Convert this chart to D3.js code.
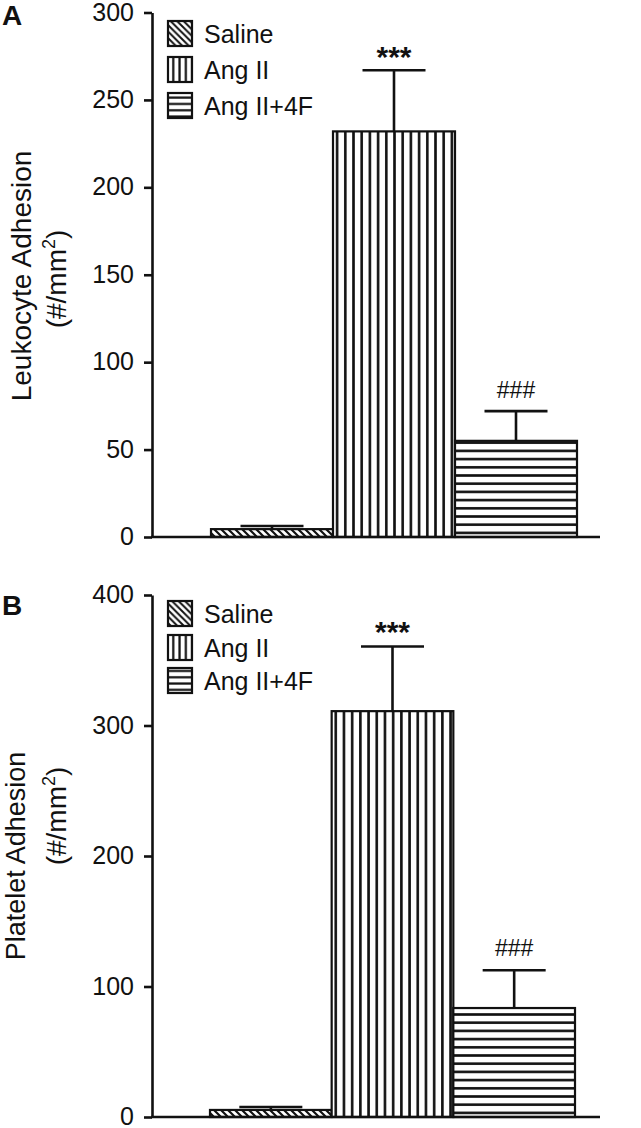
<!DOCTYPE html>
<html>
<head>
<meta charset="utf-8">
<script src="https://cdn.jsdelivr.net/npm/d3@7"></script>
<style>
  html, body { margin: 0; padding: 0; background: #fff; }
  svg { display: block; font-family: "Liberation Sans", Arial, Helvetica, sans-serif; }
</style>
</head>
<body>
<svg id="chart" width="641" height="1128"></svg>
<script>
// ---- data ----
const groups = ["Saline", "Ang II", "Ang II+4F"];
const leukocyteMean = [4.5, 232, 55];
const leukocyteSEM = [1.8, 35, 17];
const plateletMean = [5.4, 311, 83.5];
const plateletSEM = [2.3, 49.5, 29];
const leukocyteTicks = [0, 50, 100, 150, 200, 250, 300];
const plateletTicks = [0, 100, 200, 300, 400];
const sigLabels = ["", "***", "###"];
const panelLabels = ["A", "B"];
const yTitles = [["Leukocyte Adhesion", "(#/mm", "2", ")"], ["Platelet Adhesion", "(#/mm", "2", ")"]];

const svg = d3.select("#chart");
const ink = "#111";
const patIds = ["pDiag", "pVert", "pHorz"];

// ---- patterns ----
const defs = svg.append("defs");
function diagPattern(id, s, sw) {
  const p = defs.append("pattern").attr("id", id).attr("patternUnits", "userSpaceOnUse")
    .attr("width", s).attr("height", s);
  p.append("rect").attr("width", s).attr("height", s).attr("fill", "#fff");
  p.append("path").attr("d", `M${-s/2},${-s/2}L${s*1.5},${s*1.5}M${-s/2},${s/2}L${s/2},${s*1.5}M${s/2},${-s/2}L${s*1.5},${s/2}`)
    .attr("stroke", ink).attr("stroke-width", sw);
}
function vertPattern(id, s, sw, x0) {
  const p = defs.append("pattern").attr("id", id).attr("patternUnits", "userSpaceOnUse")
    .attr("width", s).attr("height", 10).attr("x", x0 || 0);
  p.append("rect").attr("width", s).attr("height", 10).attr("fill", "#fff");
  p.append("line").attr("x1", s/2).attr("x2", s/2).attr("y1", 0).attr("y2", 10)
    .attr("stroke", ink).attr("stroke-width", sw);
}
function horzPattern(id, s, sw, y0) {
  const p = defs.append("pattern").attr("id", id).attr("patternUnits", "userSpaceOnUse")
    .attr("width", 10).attr("height", s).attr("y", y0 || 0);
  p.append("rect").attr("width", 10).attr("height", s).attr("fill", "#fff");
  p.append("line").attr("y1", s/2).attr("y2", s/2).attr("x1", 0).attr("x2", 10)
    .attr("stroke", ink).attr("stroke-width", sw);
}
diagPattern("lDiag", 6.5, 2);
vertPattern("lVert", 6.3, 2.2, 0);
horzPattern("lHorz", 6.3, 2.2, 0);
const legendPat = ["lDiag", "lVert", "lHorz"];

// ---- panels ----
const panels = [
  { mean: leukocyteMean, sem: leukocyteSEM, ticks: leukocyteTicks, max: 300,
    y0: 537, y1: 12.5, xL: 211, xR: 577, label: panelLabels[0], labelY: 25,
    title: yTitles[0], t1x: 31, t1y: 276, t2x: 66, t2y: 279, t1fs: 28,
    legY: [21, 57, 93], legH: 25, sigGap: 21 },
  { mean: plateletMean, sem: plateletSEM, ticks: plateletTicks, max: 400,
    y0: 1117, y1: 595, xL: 210, xR: 575, label: panelLabels[1], labelY: 615,
    title: yTitles[1], t1x: 25, t1y: 856, t2x: 66, t2y: 816, t1fs: 27,
    legY: [601, 635, 668], legH: 25, sigGap: 22 }
];

const axisX = 152;

panels.forEach((P, pi) => {
  const g = svg.append("g");
  const y = d3.scaleLinear().domain([0, P.max]).range([P.y0, P.y1]);
  const x = d3.scaleBand().domain(groups).range([P.xL, P.xR]).paddingInner(0).paddingOuter(0);

  // bars
  groups.forEach((grp, i) => {
    const bx = x(grp), bw = x.bandwidth();
    const top = y(P.mean[i]);
    const pid = patIds[i] + "_" + pi;
    if (i === 1) vertPattern(pid, 8.2, 2.6, bx);
    else if (i === 2) horzPattern(pid, 8.2, 2.6, P.y0);
    else diagPattern(pid, 7, 2.2);
    g.append("rect").attr("x", bx).attr("y", top).attr("width", bw).attr("height", P.y0 - top)
      .attr("fill", `url(#${pid})`).attr("stroke", ink).attr("stroke-width", 2.2);
    // error bar
    const cx = bx + bw / 2;
    const capY = y(P.mean[i] + P.sem[i]);
    g.append("line").attr("x1", cx).attr("x2", cx).attr("y1", top).attr("y2", capY)
      .attr("stroke", ink).attr("stroke-width", 2.6);
    g.append("line").attr("x1", cx - 31.5).attr("x2", cx + 31.5).attr("y1", capY).attr("y2", capY)
      .attr("stroke", ink).attr("stroke-width", 2.6);
    if (sigLabels[i]) {
      const isStar = sigLabels[i] === "***";
      g.append("text").attr("x", cx).attr("y", capY - P.sigGap)
        .attr("text-anchor", "middle")
        .attr("dy", isStar ? "0.58em" : "0.36em")
        .attr("font-size", isStar ? 30 : 23)
        .attr("font-weight", isStar ? "bold" : "normal")
        .attr("fill", ink).text(sigLabels[i]);
    }
  });

  // y axis
  const ax = g.append("g").attr("transform", `translate(${axisX},0)`)
    .call(d3.axisLeft(y).tickValues(P.ticks).tickSize(8).tickPadding(10).tickSizeOuter(0));
  ax.select(".domain").attr("stroke", ink).attr("stroke-width", 2.6);
  ax.selectAll(".tick line").attr("stroke", ink).attr("stroke-width", 2.6);
  ax.selectAll(".tick text").attr("font-size", 25).attr("fill", ink).attr("dy", "0.3em")
    .attr("font-family", "'Liberation Sans', Arial, sans-serif");

  // x axis baseline
  g.append("line").attr("x1", axisX - 1).attr("x2", 600).attr("y1", P.y0).attr("y2", P.y0)
    .attr("stroke", ink).attr("stroke-width", 2.6);

  // panel letter
  g.append("text").attr("x", 2).attr("y", P.labelY).attr("font-size", 28).attr("font-weight", "bold")
    .attr("fill", ink).text(P.label);

  // y title
  g.append("text").attr("transform", `translate(${P.t1x},${P.t1y}) rotate(-90)`)
    .attr("text-anchor", "middle").attr("font-size", P.t1fs).attr("fill", ink).text(P.title[0]);
  const t2 = g.append("text").attr("transform", `translate(${P.t2x},${P.t2y}) rotate(-90)`)
    .attr("text-anchor", "middle").attr("font-size", 28).attr("fill", ink);
  t2.append("tspan").text(P.title[1]);
  t2.append("tspan").attr("font-size", 18).attr("dy", -11).text(P.title[2]);
  t2.append("tspan").attr("dy", 11).text(P.title[3]);

  // legend
  groups.forEach((grp, i) => {
    const ly = P.legY[i];
    g.append("rect").attr("x", 168).attr("y", ly).attr("width", 24).attr("height", P.legH)
      .attr("fill", `url(#${legendPat[i]})`).attr("stroke", ink).attr("stroke-width", 2.2);
    g.append("text").attr("x", 204).attr("y", ly + P.legH / 2).attr("dy", "0.36em")
      .attr("font-size", 25).attr("fill", ink).text(grp);
  });
});
</script>
</body>
</html>
